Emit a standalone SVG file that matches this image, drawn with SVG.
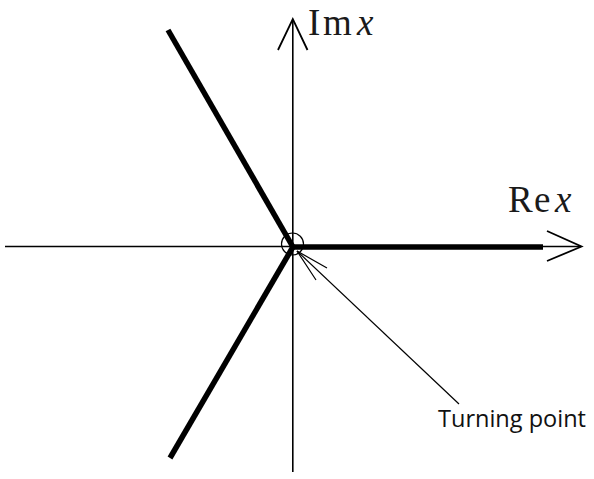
<svg xmlns="http://www.w3.org/2000/svg" width="594" height="479" viewBox="0 0 594 479">
<style>
.axis{stroke:#000;stroke-width:1.6;fill:none}
.thick{stroke:#000;stroke-width:5.5;fill:none;stroke-linecap:butt}
.head{stroke:#000;stroke-width:1.8;fill:none}
.ptr{stroke:#000;stroke-width:1.2;fill:none}
.lbl{font-family:"Liberation Serif","DejaVu Serif",serif;font-size:37px;fill:#1a1a1a}
.lbli{font-family:"Liberation Serif","DejaVu Serif",serif;font-size:37px;font-style:italic;fill:#1a1a1a}
.note{font-family:"Open Sans","Noto Sans",sans-serif;font-size:24px;fill:#111}
</style>
<g id="connectors">
  <line class="axis" x1="5" y1="246.5" x2="581" y2="246.5"/>
  <line class="axis" x1="292.8" y1="20" x2="292.8" y2="472"/>
  <polyline class="head" points="547,231 581.5,246.5 547,261"/>
  <polyline class="head" points="278,50 292.8,19 307.5,50"/>
  <line class="thick" x1="292.8" y1="247" x2="543" y2="247"/>
  <line class="thick" x1="293.5" y1="248" x2="168" y2="30"/>
  <line class="thick" x1="293.5" y1="246" x2="170" y2="458"/>
  <circle class="ptr" cx="292.5" cy="244" r="11" stroke-width="1.5"/>
  <line class="ptr" x1="459" y1="404" x2="297" y2="251"/>
  <polyline class="ptr" points="327,268 297,251 316,280"/>
</g>
<g id="label-im">
  <text class="lbl" y="35"><tspan x="308">I</tspan><tspan x="323">m</tspan></text>
  <text class="lbli" x="357" y="35">x</text>
</g>
<g id="label-re">
  <text class="lbl" y="212"><tspan x="508">R</tspan><tspan x="534">e</tspan></text>
  <text class="lbli" x="555" y="212">x</text>
</g>
<g id="turning-point">
  <text class="note" x="438" y="427" textLength="148" lengthAdjust="spacingAndGlyphs">Turning point</text>
</g>
</svg>
